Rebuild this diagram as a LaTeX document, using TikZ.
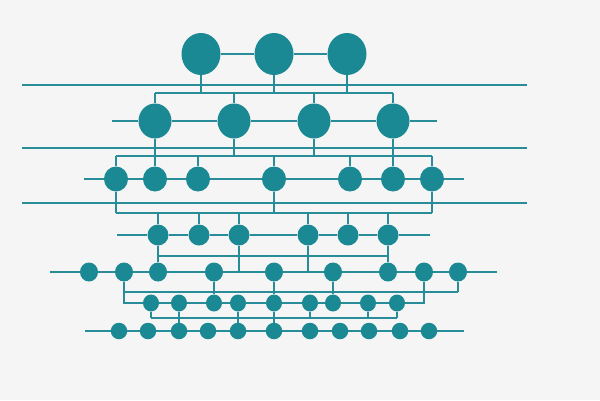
\documentclass[tikz,border=0pt]{standalone}
\usepackage{tikz}
\usetikzlibrary{shapes.geometric}
\definecolor{tealdot}{RGB}{27,137,147}
\definecolor{tealwire}{RGB}{40,141,152}
\definecolor{paper}{RGB}{245,245,245}
\pgfdeclarelayer{paper}
\pgfdeclarelayer{wires}
\pgfsetlayers{paper,wires,main}

\begin{document}
\begin{tikzpicture}[x=1pt,y=-1pt,
    dot/.style={ellipse,fill=tealdot,inner sep=0pt},
    dota/.style={dot,minimum width=39pt,minimum height=42pt},
    dotb/.style={dot,minimum width=33pt,minimum height=35pt},
    dotc/.style={dot,minimum width=24pt,minimum height=25pt},
    dotd/.style={dot,minimum width=21pt,minimum height=21pt},
    dote/.style={dot,minimum width=18pt,minimum height=19pt},
    dotf/.style={dot,minimum width=16pt,minimum height=17pt},
    dotg/.style={dot,minimum width=16.5pt,minimum height=16.5pt},
    wire/.style={draw=tealwire,line width=1.5pt}]

  \begin{pgfonlayer}{paper}
    \fill[paper] (0,0) rectangle (600,400);
  \end{pgfonlayer}

  % row a
  \node[dota] (a1) at (201,54) {};
  \node[dota] (a2) at (274,54) {};
  \node[dota] (a3) at (347,54) {};

  % row b
  \node[dotb] (b1) at (155,121) {};
  \node[dotb] (b2) at (234,121) {};
  \node[dotb] (b3) at (314,121) {};
  \node[dotb] (b4) at (393,121) {};

  % row c
  \node[dotc] (c1) at (116,179) {};
  \node[dotc] (c2) at (155,179) {};
  \node[dotc] (c3) at (198,179) {};
  \node[dotc] (c4) at (274,179) {};
  \node[dotc] (c5) at (350,179) {};
  \node[dotc] (c6) at (393,179) {};
  \node[dotc] (c7) at (432,179) {};

  % row d
  \node[dotd] (d1) at (158,235) {};
  \node[dotd] (d2) at (199,235) {};
  \node[dotd] (d3) at (239,235) {};
  \node[dotd] (d4) at (308,235) {};
  \node[dotd] (d5) at (348,235) {};
  \node[dotd] (d6) at (388,235) {};

  % row e
  \node[dote] (e1) at (89,272) {};
  \node[dote] (e2) at (124,272) {};
  \node[dote] (e3) at (158,272) {};
  \node[dote] (e4) at (214,272) {};
  \node[dote] (e5) at (274,272) {};
  \node[dote] (e6) at (333,272) {};
  \node[dote] (e7) at (388,272) {};
  \node[dote] (e8) at (424,272) {};
  \node[dote] (e9) at (458,272) {};

  % row f
  \node[dotf] (f1) at (151,303) {};
  \node[dotf] (f2) at (179,303) {};
  \node[dotf] (f3) at (214,303) {};
  \node[dotf] (f4) at (238,303) {};
  \node[dotf] (f5) at (274,303) {};
  \node[dotf] (f6) at (310,303) {};
  \node[dotf] (f7) at (333,303) {};
  \node[dotf] (f8) at (368,303) {};
  \node[dotf] (f9) at (397,303) {};

  % row g
  \node[dotg] (g1) at (119,331) {};
  \node[dotg] (g2) at (148,331) {};
  \node[dotg] (g3) at (179,331) {};
  \node[dotg] (g4) at (208,331) {};
  \node[dotg] (g5) at (238,331) {};
  \node[dotg] (g6) at (274,331) {};
  \node[dotg] (g7) at (310,331) {};
  \node[dotg] (g8) at (340,331) {};
  \node[dotg] (g9) at (369,331) {};
  \node[dotg] (g10) at (400,331) {};
  \node[dotg] (g11) at (429,331) {};

  % free ends
  \coordinate (l1w) at (22,85);  \coordinate (l1e) at (527,85);
  \coordinate (l2w) at (22,148); \coordinate (l2e) at (527,148);
  \coordinate (l3w) at (22,203); \coordinate (l3e) at (527,203);
  \coordinate (b0) at (112,121); \coordinate (b5) at (437,121);
  \coordinate (c0) at (84,179);  \coordinate (c8) at (464,179);
  \coordinate (d0) at (117,235); \coordinate (d7) at (430,235);
  \coordinate (e0) at (50,272);  \coordinate (e10) at (497,272);
  \coordinate (g0) at (85,331);  \coordinate (g12) at (464,331);
  \coordinate (bus1) at (0,93);
  \coordinate (bus2) at (0,156);
  \coordinate (bus3) at (0,213);
  \coordinate (bus4) at (0,256);
  \coordinate (bus5) at (0,292);
  \coordinate (bus6) at (0,318);

  \begin{pgfonlayer}{wires}
    %long lines
    \draw[wire] (l1w) -- (l1e);
    \draw[wire] (l2w) -- (l2e);
    \draw[wire] (l3w) -- (l3e);

    %rows
    \draw[wire] (a1) -- (a2) -- (a3);
    \draw[wire] (b0) -- (b1) -- (b2) -- (b3) -- (b4) -- (b5);
    \draw[wire] (c0) -- (c1) -- (c2) -- (c3) -- (c4) -- (c5) -- (c6) -- (c7) -- (c8);
    \draw[wire] (d0) -- (d1) -- (d2) -- (d3) -- (d4) -- (d5) -- (d6) -- (d7);
    \draw[wire] (e0) -- (e1) -- (e2) -- (e3) -- (e4) -- (e5) -- (e6) -- (e7) -- (e8) -- (e9) -- (e10);
    \draw[wire] (e2) -- (e2 |- f1) -- (f1) -- (f2) -- (f3) -- (f4) -- (f5) -- (f6) -- (f7) -- (f8) -- (f9) -- (e8 |- f9) -- (e8);
    \draw[wire] (g0) -- (g1) -- (g2) -- (g3) -- (g4) -- (g5) -- (g6) -- (g7) -- (g8) -- (g9) -- (g10) -- (g11) -- (g12);

    %a>b
    \draw[wire] (b1 |- bus1) -- (b4 |- bus1);
    \draw[wire] (a1) -- (a1 |- bus1);
    \draw[wire] (a2) -- (a2 |- bus1);
    \draw[wire] (a3) -- (a3 |- bus1);
    \draw[wire] (b1 |- bus1) -- (b1);
    \draw[wire] (b2 |- bus1) -- (b2);
    \draw[wire] (b3 |- bus1) -- (b3);
    \draw[wire] (b4 |- bus1) -- (b4);

    %b>c
    \draw[wire] (c1 |- bus2) -- (c7 |- bus2);
    \draw[wire] (b1) -- (c2);
    \draw[wire] (b4) -- (c6);
    \draw[wire] (b2) -- (b2 |- bus2);
    \draw[wire] (b3) -- (b3 |- bus2);
    \draw[wire] (c1 |- bus2) -- (c1);
    \draw[wire] (c3 |- bus2) -- (c3);
    \draw[wire] (c4 |- bus2) -- (c4);
    \draw[wire] (c5 |- bus2) -- (c5);
    \draw[wire] (c7 |- bus2) -- (c7);

    %c>d
    \draw[wire] (c1 |- bus3) -- (c7 |- bus3);
    \draw[wire] (c1) -- (c1 |- bus3);
    \draw[wire] (c4) -- (c4 |- bus3);
    \draw[wire] (c7) -- (c7 |- bus3);
    \draw[wire] (d1 |- bus3) -- (d1);
    \draw[wire] (d2 |- bus3) -- (d2);
    \draw[wire] (d3 |- bus3) -- (d3);
    \draw[wire] (d4 |- bus3) -- (d4);
    \draw[wire] (d5 |- bus3) -- (d5);
    \draw[wire] (d6 |- bus3) -- (d6);

    %d>e
    \draw[wire] (d1 |- bus4) -- (d6 |- bus4);
    \draw[wire] (d1) -- (e3);
    \draw[wire] (d6) -- (e7);
    \draw[wire] (d3) -- (d3 |- e1);
    \draw[wire] (d4) -- (d4 |- e1);

    %e>f
    \draw[wire] (e2 |- bus5) -- (e9 |- bus5);
    \draw[wire] (e9) -- (e9 |- bus5);
    \draw[wire] (e4) -- (f3);
    \draw[wire] (e5) -- (f5);
    \draw[wire] (e6) -- (f7);

    %f>g
    \draw[wire] (f1 |- bus6) -- (f9 |- bus6);
    \draw[wire] (f1) -- (f1 |- bus6);
    \draw[wire] (f6) -- (f6 |- bus6);
    \draw[wire] (f8) -- (f8 |- bus6);
    \draw[wire] (f9) -- (f9 |- bus6);
    \draw[wire] (f2) -- (g3);
    \draw[wire] (f4) -- (g5);
    \draw[wire] (f5) -- (g6);
  \end{pgfonlayer}
\end{tikzpicture}
\end{document}
